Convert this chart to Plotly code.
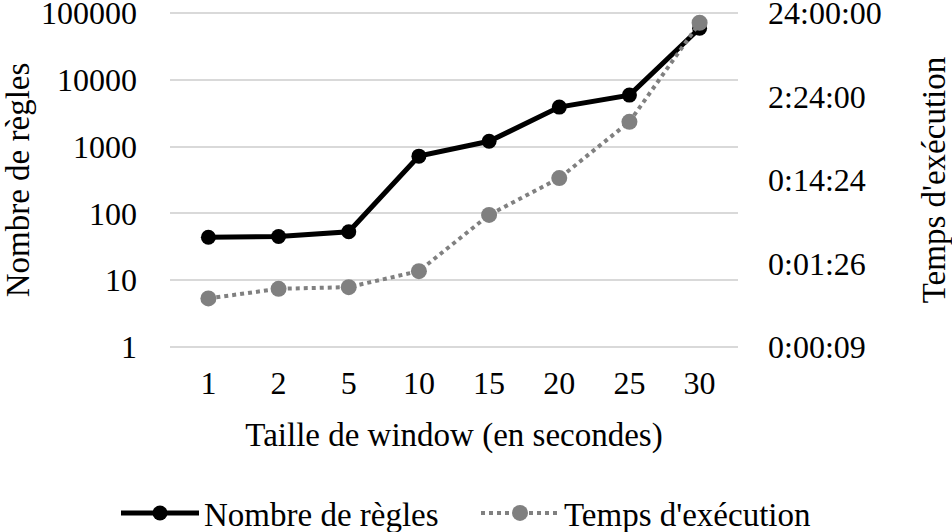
import math
import plotly.graph_objects as go

categories = ["1", "2", "5", "10", "15", "20", "25", "30"]
nb_regles = [44, 45, 53, 720, 1200, 3900, 5900, 59000]
temps_sec = [33, 43, 45, 70, 330, 910, 4300, 66000]

left_ticks = [1, 10, 100, 1000, 10000, 100000]
right_tickvals = [8.64, 86.4, 864, 8640, 86400]
right_ticktext = ["0:00:09", "0:01:26", "0:14:24", "2:24:00", "24:00:00"]

FONT = "Liberation Serif"
FT = dict(family=FONT, size=32, color="black")
FL = dict(family=FONT, size=33, color="black")

PAD_L = 0.03          # decades of padding on the left axis (~2 px)
PAD_R = PAD_L * 4 / 5  # same pixel padding on the right axis

fig = go.Figure()
fig.add_trace(go.Scatter(
    x=categories, y=nb_regles, name="Nombre de règles", mode="lines+markers",
    line=dict(color="black", width=5), marker=dict(color="black", size=15),
    yaxis="y", legend="legend"))
fig.add_trace(go.Scatter(
    x=categories, y=temps_sec, name="Temps d'exécution", mode="lines+markers",
    line=dict(color="#808080", width=4, dash="dot"), marker=dict(color="#808080", size=16),
    yaxis="y2", legend="legend2"))

LEG_Y = (345 - 509) / 338

fig.update_layout(
    width=952, height=532,
    margin=dict(l=170, r=214, t=11, b=183, autoexpand=False),
    paper_bgcolor="white", plot_bgcolor="white",
    font=FL,
    showlegend=True,
    legend=dict(x=(116 - 170) / 568, xanchor="left", y=LEG_Y, yanchor="middle",
                font=FL, bgcolor="rgba(0,0,0,0)", itemwidth=78),
    legend2=dict(x=(476 - 170) / 568, xanchor="left", y=LEG_Y, yanchor="middle",
                 font=FL, bgcolor="rgba(0,0,0,0)", itemwidth=78),
    xaxis=dict(type="category", showgrid=False, showline=False, zeroline=False,
               ticks="", ticklabelstandoff=12, tickfont=FT, automargin=False,
               title=dict(text="Taille de window (en secondes)", standoff=22, font=FL)),
    yaxis=dict(type="log", range=[0 - PAD_L, 5 + PAD_L], tickvals=left_ticks,
               ticktext=[str(v) for v in left_ticks],
               showgrid=True, gridcolor="#d9d9d9", gridwidth=1.5,
               showline=False, zeroline=False, ticks="", ticklabelstandoff=32,
               tickfont=FT, automargin=False, ticklabeloverflow="allow",
               title=dict(text="Nombre de règles", standoff=12, font=FL)),
    yaxis2=dict(type="log", overlaying="y", side="right",
                range=[math.log10(8.64) - PAD_R, math.log10(86400) + PAD_R],
                tickvals=right_tickvals, ticktext=right_ticktext,
                showgrid=False, showline=False, zeroline=False, ticks="",
                ticklabelstandoff=29, tickfont=FT, automargin=False,
                ticklabeloverflow="allow",
                title=dict(text="Temps d'exécution", standoff=53, font=FL)),
)

fig.write_html("out.html")
